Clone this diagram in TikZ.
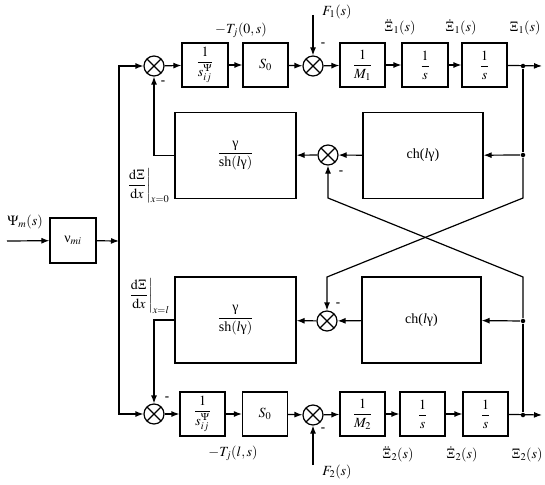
\documentclass[tikz,border=0pt]{standalone}
\usepackage{amsmath}
\usepackage{mathptmx}
\usepackage{fontspec}
\setmainfont{Liberation Serif}
\usetikzlibrary{arrows.meta}

\begin{document}
\begin{tikzpicture}[x=1pt,y=-1pt,line width=1.2pt,
    font=\fontsize{14}{16}\selectfont,
    block/.style={draw,rectangle,inner sep=1pt,align=center},
    sumnode/.style={draw,circle,minimum size=20pt,inner sep=0pt,
        path picture={\draw (path picture bounding box.center) +(45:11pt) -- +(225:11pt)
                           (path picture bounding box.center) +(135:11pt) -- +(-45:11pt);}},
    arr/.style={-{Latex[length=8pt,width=6pt]}},
    dot/.style={circle,fill,inner sep=0pt,minimum size=4.5pt},
    minus/.style={inner sep=0pt,font=\bfseries\fontsize{13}{13}\selectfont}]
    \useasboundingbox (0,0) rectangle (545,484);

    % Summing points
    \node[sumnode] (sumA) at (154,66) {};
    \node[sumnode] (sumB) at (313,66) {};
    \node[sumnode] (sumC) at (328,155) {};
    \node[sumnode] (sumD) at (327,321) {};
    \node[sumnode] (sumE) at (154,414) {};
    \node[sumnode] (sumF) at (313,415) {};

    % Upper chain
    \node[block,minimum width=46pt,minimum height=44pt] (psiA) at (205,65) {$\dfrac{1}{s_{ij}^{\Psi}}$};
    \node[block,minimum width=45pt,minimum height=44pt] (sA) at (265.5,65) {$S_0$};
    \node[block,minimum width=45pt,minimum height=44pt] (mA) at (362.5,65) {$\dfrac{1}{M_1}$};
    \node[block,minimum width=46pt,minimum height=44pt] (iA) at (425,65) {$\dfrac{1}{s}$};
    \node[block,minimum width=45pt,minimum height=44pt] (jA) at (484.5,65) {$\dfrac{1}{s}$};

    % Feedback blocks
    \node[block,minimum width=121pt,minimum height=86pt] (shA) at (235.5,155.5) {$\dfrac{\text{γ}}{\text{sh}(\textit{l}\text{γ})}$};
    \node[block,minimum width=120pt,minimum height=86pt] (chA) at (423,155.5) {ch(\textit{l}γ)};
    \node[block,minimum width=121pt,minimum height=86pt] (shB) at (235.5,320) {$\dfrac{\text{γ}}{\text{sh}(\textit{l}\text{γ})}$};
    \node[block,minimum width=119pt,minimum height=86pt] (chB) at (421.5,320) {ch(\textit{l}γ)};

    % Input block
    \node[block,minimum width=46pt,minimum height=45pt] (nu) at (73,240.5) {ν$_{mi}$};

    % Lower chain
    \node[block,minimum width=45pt,minimum height=44pt] (psiB) at (202.5,414) {$\dfrac{1}{s_{ij}^{\Psi}}$};
    \node[block,minimum width=45pt,minimum height=44pt] (sB) at (265,414) {$S_0$};
    \node[block,minimum width=45pt,minimum height=44pt] (mB) at (362.5,414) {$\dfrac{1}{M_2}$};
    \node[block,minimum width=45pt,minimum height=44pt] (iB) at (422.5,414) {$\dfrac{1}{s}$};
    \node[block,minimum width=45pt,minimum height=44pt] (jB) at (485.5,414) {$\dfrac{1}{s}$};

    % Branch points and free ends
    \node[dot] (dotA) at (523,66) {};
    \node[dot] (dotC) at (523,155) {};
    \node[dot] (dotD) at (523,321) {};
    \node[dot] (dotF) at (523,415) {};
    \coordinate (outA) at (542,66);
    \coordinate (outB) at (542,415);
    \coordinate (in) at (7,241);
    \coordinate (jn) at (119,241);
    \coordinate (fA) at (313,15);
    \coordinate (fB) at (313,465);
    \coordinate (xa) at (523,198);
    \coordinate (xb) at (327,277);
    \coordinate (xc) at (523,277);
    \coordinate (xd) at (328,198);

    % Input side
    \draw[arr] (in) -- (nu);
    \draw[arr] (nu) -- (jn);
    \draw[arr] (jn) |- (sumA);
    \draw[arr] (jn) |- (sumE);

    % Upper forward path
    \draw[arr] (sumA) -- (psiA);
    \draw[arr] (psiA) -- (sA);
    \draw[arr] (sA) -- (sumB);
    \draw[arr] (fA) -- (sumB);
    \draw[arr] (sumB) -- (mA);
    \draw[arr] (mA) -- (iA);
    \draw[arr] (iA) -- (jA);
    \draw[arr] (jA) -- (outA);

    % Lower forward path
    \draw[arr] (sumE) -- (psiB);
    \draw[arr] (psiB) -- (sB);
    \draw[arr] (sB) -- (sumF);
    \draw[arr] (fB) -- (sumF);
    \draw[arr] (sumF) -- (mB);
    \draw[arr] (mB) -- (iB);
    \draw[arr] (iB) -- (jB);
    \draw[arr] (jB) -- (outB);

    % Upper feedback
    \draw (dotA) -- (dotC);
    \draw[arr] (dotC) -- (chA);
    \draw[arr] (chA) -- (sumC);
    \draw[arr] (sumC) -- (shA);
    \draw[arr] (shA.west) -| (sumA);

    % Lower feedback
    \draw (dotF) -- (dotD);
    \draw[arr] (dotD) -- (chB);
    \draw[arr] (chB) -- (sumD);
    \draw[arr] (sumD) -- (shB);
    \draw[arr] (shB.west) -| (sumE);

    % Cross links
    \draw[arr] (dotC) -- (xa) -- (xb) -- (sumD);
    \draw[arr] (dotD) -- (xc) -- (xd) -- (sumC);

    % Minus signs
    \node[minus] at (163,83) {-};
    \node[minus] at (323,45) {-};
    \node[minus] at (341,173) {-};
    \node[minus] at (338,305) {-};
    \node[minus] at (167,399) {-};
    \node[minus] at (323,430) {-};

    % Signal labels
    \node at (241,30) {$-T_j(0,s)$};
    \node at (337,12) {$F_1(s)$};
    \node at (400,27) {$\ddot{\Xi}_1(s)$};
    \node at (461,27) {$\dot{\Xi}_1(s)$};
    \node at (525,28) {$\Xi_1(s)$};
    \node at (233,453) {$-T_j(l,s)$};
    \node at (337,472) {$F_2(s)$};
    \node at (398,454) {$\ddot{\Xi}_2(s)$};
    \node at (462,454) {$\dot{\Xi}_2(s)$};
    \node at (527,455) {$\Xi_2(s)$};
    \node at (25,222) {$\Psi_m(s)$};
    \node at (148,186) {$\left.\dfrac{\mathrm{d}\Xi}{\mathrm{d}x}\right|_{x=0}$};
    \node at (149,296) {$\left.\dfrac{\mathrm{d}\Xi}{\mathrm{d}x}\right|_{x=l}$};
\end{tikzpicture}
\end{document}
